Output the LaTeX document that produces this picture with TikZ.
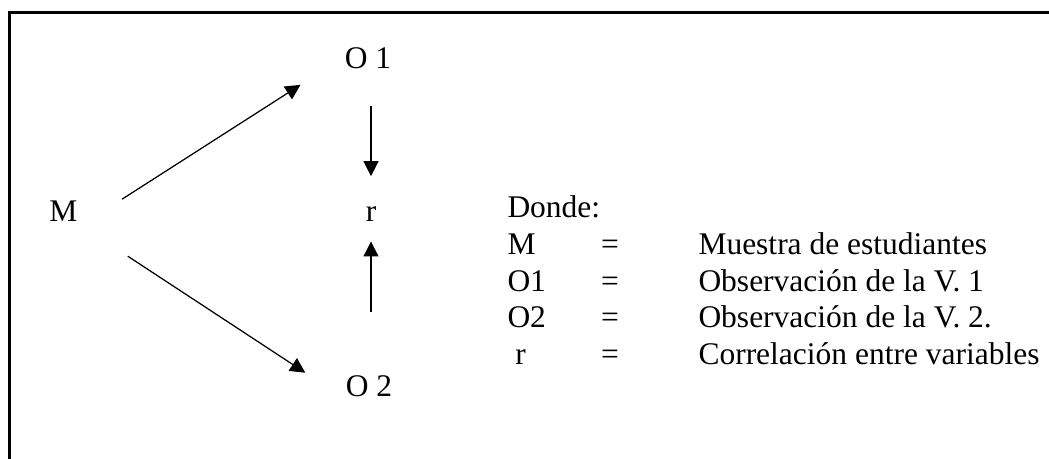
\documentclass[tikz,border=0pt]{standalone}
\usepackage{fontspec}
\setmainfont{Liberation Serif}
\usepackage{tikz}
\usetikzlibrary{arrows.meta}
\tikzstyle{arrow} = [line width=0.5pt,->,>={Triangle[length=6pt,width=6pt]}]
\tikzstyle{txt} = [font=\fontsize{12.6}{15}\selectfont, inner sep=1.2pt]
\tikzstyle{legend} = [txt, inner sep=0pt]

\begin{document}
\begin{tikzpicture}[x=0.4pt,y=-0.4pt]
\useasboundingbox (0,0) rectangle (1049,459);
\clip (0,0) rectangle (1049,459);

%frame, only its top and left edges fall inside the page
\draw[line width=1.2pt] (9.5,12.5) rectangle (1080,490);

%diagram
\node[txt, anchor=base] (M) at (63.5,222) {M};
\node[txt, anchor=base] (O1) at (368,69) {O 1};
\node[txt, anchor=base] (r) at (371,222) {r};
\node[txt, anchor=base] (O2) at (369,397) {O 2};

\draw[arrow, shorten <=19.5pt, shorten >=19.4pt] (M.south east) -- (O1.west);
\draw[arrow, shorten <=22.4pt, shorten >=17.7pt] (M.south east) -- (O2.base west);
\draw[arrow, shorten <=13.2pt, shorten >=11pt] (O1.south -| r.north) -- (r.north);
\draw[arrow, shorten <=24.2pt, shorten >=6.4pt] (O2.north -| r.south) -- (r.south);

%legend, rows 36.6 apart
\node[legend, anchor=base west] (donde) at (507,218) {Donde:};
\foreach \sym/\desc [count=\i] in {M/Muestra de estudiantes, O1/Observación de la V. 1, O2/Observación de la V. 2., {\ r}/Correlación entre variables}
{
\node[legend, anchor=base west] (sym\i) at (507,218+36.6*\i) {\sym};
\node[legend, anchor=base] (eq\i) at (610,218+36.6*\i) {=};
\node[legend, anchor=base west] (desc\i) at (698,218+36.6*\i) {\desc};
}

\end{tikzpicture}
\end{document}
